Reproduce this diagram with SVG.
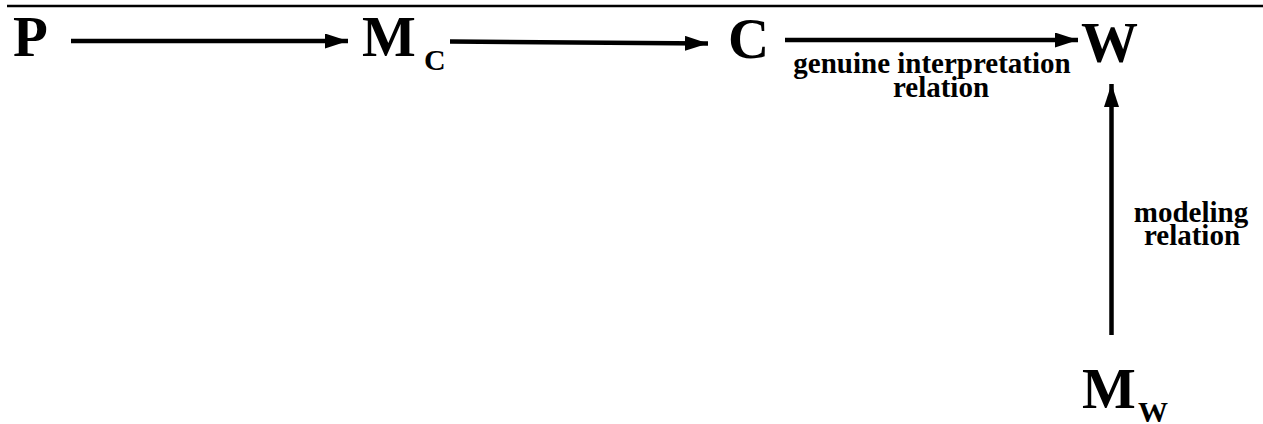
<svg xmlns="http://www.w3.org/2000/svg" width="1263" height="424" viewBox="0 0 1263 424">
<defs>
<style>
.big{font-family:"Liberation Serif","Times New Roman",serif;font-weight:bold;font-size:57px;fill:#000}
.sub{font-family:"Liberation Serif","Times New Roman",serif;font-weight:bold;font-size:30px;fill:#000}
.lbl{font-family:"Liberation Serif","Times New Roman",serif;font-weight:bold;font-size:29px;fill:#000;text-anchor:middle}
.edge{stroke:#000;stroke-width:4.5;fill:none}
</style>
<marker id="ah" markerWidth="24" markerHeight="16" refX="23" refY="7.5" orient="auto" markerUnits="userSpaceOnUse">
<path d="M0,0 L23,7.5 L0,15 z" fill="#000"/>
</marker>
</defs>
<rect width="1263" height="424" fill="#fff"/>
<line x1="7" y1="6" x2="1263" y2="6" stroke="#000" stroke-width="2.5"/>
<g id="connectors">
<line class="edge" x1="71" y1="41" x2="348" y2="41" marker-end="url(#ah)"/>
<line class="edge" x1="450" y1="41.5" x2="708" y2="43.5" marker-end="url(#ah)"/>
<line class="edge" x1="785" y1="40" x2="1078" y2="40" marker-end="url(#ah)"/>
<line class="edge" x1="1111.5" y1="335" x2="1111.5" y2="84" marker-end="url(#ah)"/>
<text class="lbl" x="932" y="73">genuine interpretation</text>
<text class="lbl" x="941" y="97">relation</text>
<text class="lbl" x="1191" y="222">modeling</text>
<text class="lbl" x="1192" y="245">relation</text>
</g>
<g id="P"><text class="big" x="13" y="56">P</text></g>
<g id="MC"><text class="big" x="362" y="56">M</text><text class="sub" x="424" y="70">C</text></g>
<g id="C"><text class="big" x="728" y="58">C</text></g>
<g id="W"><text class="big" x="1081" y="62">W</text></g>
<g id="MW"><text class="big" x="1082" y="408">M</text><text class="sub" x="1138" y="422">W</text></g>
</svg>
